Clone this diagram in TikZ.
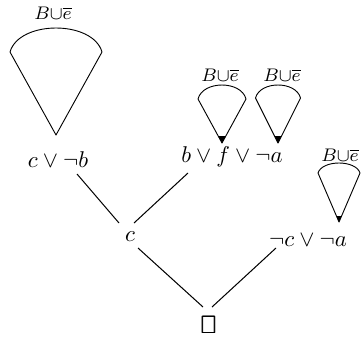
\documentclass[tikz,border=0pt]{standalone}
\usepackage{amsmath,amssymb}
\usepackage{graphicx}
\usetikzlibrary{calc}
\tikzset{
  pics/cone/.style n args={4}{code={
    \draw[line join=round] (0,0) -- (-#1,-#2)
      .. controls (-0.8*#1,-#2-1.333*#3) and (0.8*#1,-#2-1.333*#3) .. (#1,-#2) -- cycle;
    \fill (0,0) -- ({-#1*#4/#2},-#4) -- ({#1*#4/#2},-#4) -- cycle;
  }},
  lab/.style={font=\footnotesize, inner sep=0pt},
  clause/.style={inner sep=0pt},
  edge/.style={line width=0.45pt}
}
\newcommand{\labtext}{$B{\cup}\overline{e}$}
\begin{document}
\begin{tikzpicture}[x=0.4386pt, y=-0.4386pt]
\useasboundingbox (0,0) rectangle (361,342);
% cones
\pic at (56,135) {cone={46}{83}{24}{0}};
\pic at (222,143) {cone={24}{44}{14}{7}};
\pic at (278,143) {cone={22.5}{45}{13}{7}};
\pic at (339,222) {cone={21}{49}{10}{6}};
% labels
\node[lab] (l1) at (53,13) {\labtext};
\node[lab] (l2) at (220,75) {\labtext};
\node[lab] (l3) at (282,75) {\labtext};
\node[lab] (l4) at (340,155) {\labtext};
% clauses
\node[clause] (cb) at (58,160) {$c\vee\neg b$};
\node[clause] (bfa) at (232,157) {$b\vee f\vee\neg a$};
\node[clause] (c) at (130,237) {$c$};
\node[clause] (nca) at (308,240) {$\neg c\vee\neg a$};
\node[clause] (box) at (209,325) {\scalebox{0.85}[1.1]{$\pmb{\square}$}};
% connectors
\draw[edge] ($(cb)+(19,14)$) -- ($(c)+(-11,-14)$);
\draw[edge] ($(bfa)+(-44,16)$) -- ($(c)+(4,-14)$);
\draw[edge] ($(c)+(8,11)$) -- ($(box)+(-6,-18)$);
\draw[edge] ($(nca)+(-32,8)$) -- ($(box)+(3,-18)$);
\end{tikzpicture}
\end{document}
